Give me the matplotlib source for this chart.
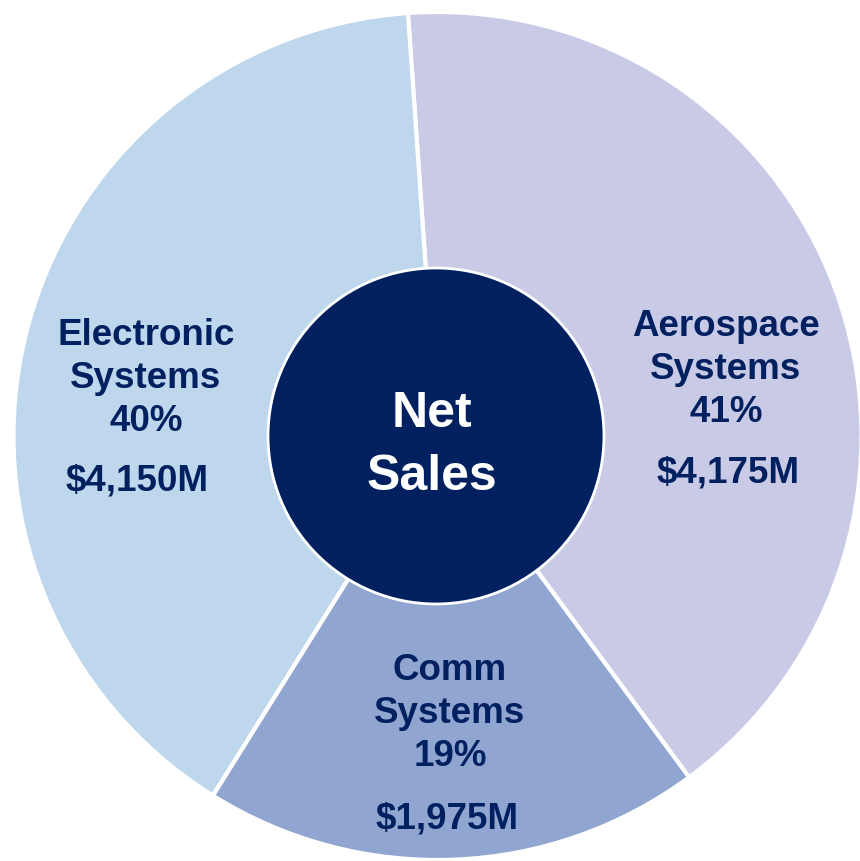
import matplotlib.pyplot as plt
from matplotlib.patches import Circle

# Segment data
segments = ['Aerospace\nSystems', 'Comm\nSystems', 'Electronic\nSystems']
pct = [41, 19, 40]
sales = [4175, 1975, 4150]
colors = ['#C9CAE6', '#91A5D1', '#BFD7EC']
navy = '#002060'

plt.rcParams['font.family'] = ['Liberation Sans', 'DejaVu Sans']

fig = plt.figure(figsize=(8.6, 8.61), dpi=100)
ax = fig.add_axes([0, 0, 1, 1])

# pie geometry in pixel units
H = 861
cx, cy, R = 437.5, H - 436, 424
ax.pie(pct, colors=colors, startangle=94, counterclock=False,
       center=(cx, cy), radius=R, frame=True,
       wedgeprops=dict(edgecolor='white', linewidth=3))
ax.set_xlim(0, 860)
ax.set_ylim(0, H)
ax.set_aspect('equal')
ax.axis('off')

# center hole
ax.add_patch(Circle((436, H - 436), 168, facecolor=navy, edgecolor='white',
                    linewidth=2, zorder=5))
ax.text(432, H - 427, 'Net', color='white', fontsize=36, fontweight='bold',
        ha='center', va='baseline', zorder=6)
ax.text(432, H - 490, 'Sales', color='white', fontsize=36, fontweight='bold',
        ha='center', va='baseline', zorder=6)

# segment labels: (x, baseline of first line, x of $ line, baseline of $ line)
label_pos = [(726, 336, 728, 483),
             (450, 680, 447, 828),
             (146, 345, 137, 491)]
fs = 26.5
for name, p, s, (x, y0, xs, ys) in zip(segments, pct, sales, label_pos):
    lines = name.split('\n') + [f'{p}%']
    for i, ln in enumerate(lines):
        ax.text(x, H - (y0 + i * 43), ln, color=navy, fontsize=fs,
                fontweight='bold', ha='center', va='baseline')
    ax.text(xs, H - ys, f'${s:,}M', color=navy, fontsize=fs,
            fontweight='bold', ha='center', va='baseline')

fig.savefig('out.png', dpi=100)
